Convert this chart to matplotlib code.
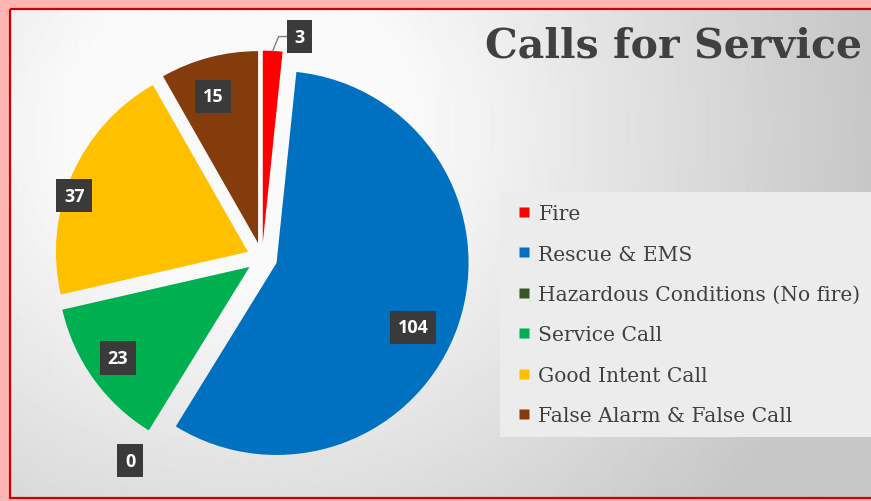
import numpy as np
import matplotlib
matplotlib.use('Agg')
import matplotlib.pyplot as plt
from matplotlib.patches import Rectangle
from matplotlib.lines import Line2D

categories = ['Fire', 'Rescue & EMS', 'Hazardous Conditions (No fire)',
              'Service Call', 'Good Intent Call', 'False Alarm & False Call']
calls = [3, 104, 0, 23, 37, 15]
colors = ['#ff0000', '#0070c0', '#375623', '#00b050', '#ffc000', '#843c0c']

W, H = 871, 502
fig = plt.figure(figsize=(W / 100, H / 100), dpi=100)
fig.patch.set_facecolor('#ffb6b2')

# grey gradient background + red frame
bg = fig.add_axes([0, 0, 1, 1])
bg.set_xlim(0, W)
bg.set_ylim(H, 0)
bg.axis('off')
yy, xx = np.mgrid[11:499, 11:W]
d = np.hypot(xx - 240, (yy - 130) / 0.9)
shade = 0.98 - 0.2 * np.clip((d - 170) / 460, 0, 1)
bg.imshow(shade, cmap='gray', vmin=0, vmax=1, extent=(11, W, 499, 11),
          aspect='auto', interpolation='bilinear')
bg.add_patch(Rectangle((10, 10), W, 489, fill=False, ec='#d00000', lw=1.6))

# pie
ax = fig.add_axes([22 / W, 3 / H, 480 / W, 480 / H])
wedges, _ = ax.pie(calls, colors=colors, startangle=90, counterclock=False,
                   explode=[0.08] * len(calls), radius=1,
                   wedgeprops=dict(linewidth=0))
ax.set_xlim(-1.25, 1.25)
ax.set_ylim(-1.25, 1.25)

# data labels
lab_r = [1.17, 0.865, 1.26, 0.913, 1.03, 0.88]
lab_d = [-6.7, -5.8, -1.4, -0.8, 5.4, 2.0]
pos = []
for w, v, r, dd in zip(wedges, calls, lab_r, lab_d):
    a = np.radians((w.theta1 + w.theta2) / 2 + dd)
    x, y = r * np.cos(a), r * np.sin(a)
    pos.append((x, y))
    ax.text(x, y, str(v), ha='center', va='center', color='white',
            fontsize=13, fontweight='bold', family='Open Sans', zorder=5,
            bbox=dict(boxstyle='square,pad=0.42', fc='#3a3a3a', ec='none'))

# leader line for the small Fire slice
w = wedges[0]
m = np.radians((w.theta1 + w.theta2) / 2)
cx, cy = w.center
x3, y3 = pos[0]
ax.plot([cx + np.cos(m), x3 - 0.11, x3 - 0.05], [cy + np.sin(m), y3, y3],
        color='#808080', lw=1, zorder=4)

# title
title = fig.text(485 / W, 1 - 58 / H, 'Calls for Service', family='DejaVu Serif',
                 fontweight='bold', color='#404040', fontsize=36,
                 va='baseline', ha='left')
rend = fig.canvas.get_renderer()
title.set_fontsize(36 * 377 / title.get_window_extent(rend).width)

# legend
probe = fig.text(0, 0, categories[2], family='DejaVu Serif', fontsize=12)
fs = 12 * 321 / probe.get_window_extent(rend).width
probe.remove()
fpx = fs * 100 / 72
handles = [Line2D([], [], ls='none', marker='s', ms=7, mfc=c, mec='none')
           for c in colors]
fig.legend(handles, categories, loc='upper left',
           bbox_to_anchor=(500 / W, 1 - 193 / H), bbox_transform=fig.transFigure,
           frameon=True, fancybox=False, facecolor='#ececec', edgecolor='none',
           framealpha=1, prop=dict(family='DejaVu Serif', size=fs),
           labelcolor='#404040', handlelength=1.2, handletextpad=0.1,
           labelspacing=(45.7 - 1.2 * fpx) / fpx, borderpad=0.6,
           borderaxespad=0)

fig.savefig('out.png', dpi=100, facecolor=fig.get_facecolor())
